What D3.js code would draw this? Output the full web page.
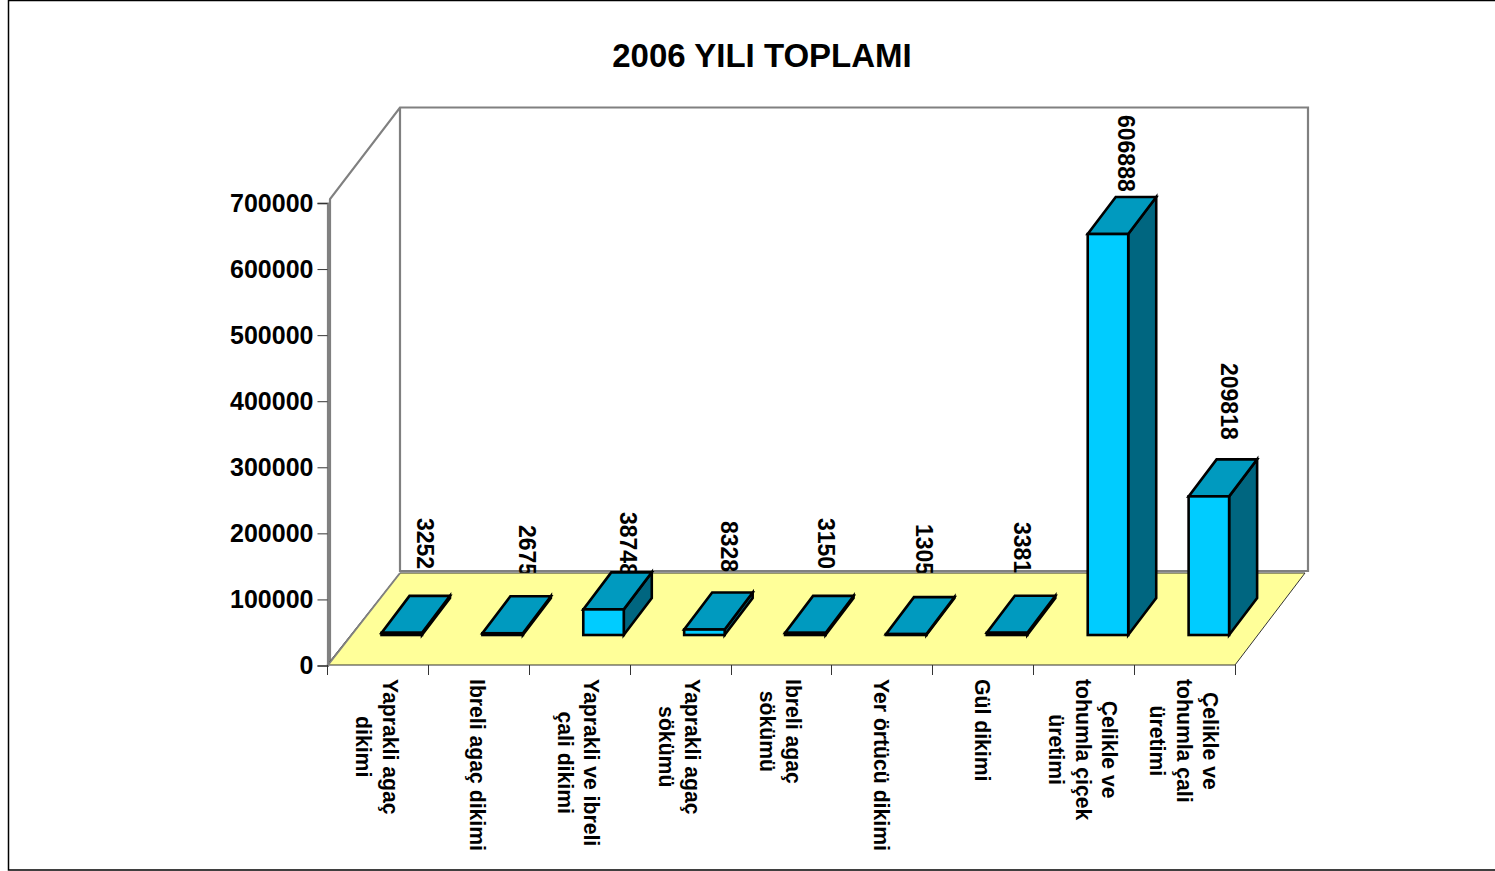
<!DOCTYPE html>
<html lang="en">
<head>
    <meta charset="UTF-8">
    <title>2006 YILI TOPLAMI</title>
    <script src="https://d3js.org/d3.v7.min.js"></script>
    <style>
        html, body { margin: 0; padding: 0; background: #fff; overflow: hidden; }
        svg { display: block; }
        text { font-family: "Liberation Sans", Arial, sans-serif; font-weight: bold; fill: #000; }
    </style>
</head>
<body>
<div id="chart"></div>
<script>
    const chartTitle = '2006 YILI TOPLAMI';
    const categories = [
        ['Yaprakli agaç', 'dikimi'],
        ['Ibreli agaç dikimi'],
        ['Yaprakli ve ibreli', 'çali dikimi'],
        ['Yaprakli agaç', 'sökümü'],
        ['Ibreli agaç', 'sökümü'],
        ['Yer örtücü dikimi'],
        ['Gül dikimi'],
        ['Çelikle ve', 'tohumla çiçek', 'üretimi'],
        ['Çelikle ve', 'tohumla çali', 'üretimi']
    ];
    const values = [3252, 2675, 38748, 8328, 3150, 1305, 3381, 606888, 209818];
    const yTicks = [0, 100000, 200000, 300000, 400000, 500000, 600000, 700000];

    const width = 1495;
    const height = 871;

    // plot box, the back wall is the front plane shifted by depth
    const plot = { left: 330, right: 1235, top: 199, bottom: 665 };
    const wallDx = 70;
    const wallDy = -92;
    const barDx = 28;
    const barDy = -37;
    const barBase = 635;
    const barWidth = 40.5;

    const xScale = d3.scaleBand()
        .domain(categories.map((d, i) => i))
        .range([327, 1235]);

    const yScale = d3.scaleLinear()
        .domain([0, 700000])
        .range([plot.bottom, 202.5]);

    const svg = d3.select('#chart')
        .append('svg')
        .attr('width', width)
        .attr('height', height);

    // outer chart border, runs off the right side of the page
    svg.append('path')
        .attr('d', `M${width + 5},0.5 H8.5 V870 H${width + 5}`)
        .attr('fill', 'none')
        .attr('stroke', '#000')
        .attr('stroke-width', 1.5);

    svg.append('text')
        .attr('x', 762)
        .attr('y', 67)
        .attr('text-anchor', 'middle')
        .attr('font-size', 33)
        .text(chartTitle);

    // walls
    const wallColor = '#808080';
    svg.append('path')
        .attr('d', `M${plot.left},${plot.bottom} V${plot.top} L${plot.left + wallDx},${plot.top + wallDy + 0.5}
            H1308 V571 H${plot.left + wallDx} V${plot.top + wallDy}`)
        .attr('fill', 'none')
        .attr('stroke', wallColor)
        .attr('stroke-width', 2.2);

    // data labels sit behind the floor and the bars, each one has its own spot in the original
    const labelLeft = [416.5, 518.5, 619.5, 720.5, 818, 916, 1014, 1117.5, 1220.5];
    const labelTop = [518, 525, 512, 521, 518, 524, 522, 115, 363];
    svg.selectAll('.value-label')
        .data(values)
        .join('text')
        .attr('class', 'value-label')
        .attr('font-size', 23)
        .attr('text-anchor', 'start')
        .attr('transform', (d, i) => `translate(${labelLeft[i]},${labelTop[i]}) rotate(90)`)
        .text(d => d);

    // floor
    svg.append('path')
        .attr('d', `M${plot.left - 3},${plot.bottom} L${plot.left + wallDx},573 H1305 L${plot.right},${plot.bottom} Z`)
        .attr('fill', '#FFFF99')
        .attr('stroke', '#333')
        .attr('stroke-width', 1);
    svg.append('line')
        .attr('x1', plot.left - 2)
        .attr('y1', plot.bottom)
        .attr('x2', plot.left + wallDx)
        .attr('y2', 573)
        .attr('stroke', wallColor)
        .attr('stroke-width', 2);

    // y axis
    const yAxis = svg.append('g')
        .attr('transform', 'translate(327.5,0.5)')
        .call(d3.axisLeft(yScale).tickValues(yTicks).tickFormat(d3.format('d')).tickSize(10).tickPadding(4));
    yAxis.select('.domain').attr('stroke', wallColor).attr('stroke-width', 2.2);
    yAxis.selectAll('.tick line').attr('stroke', '#333');
    yAxis.selectAll('text').attr('font-size', 25).attr('font-family', null);

    // x axis, tick marks only, labels are done below
    const xTickPos = categories.map((d, i) => xScale(i)).concat(1235);
    svg.selectAll('.x-tick')
        .data(xTickPos)
        .join('line')
        .attr('class', 'x-tick')
        .attr('x1', d => Math.round(d) + 0.5)
        .attr('x2', d => Math.round(d) + 0.5)
        .attr('y1', plot.bottom)
        .attr('y2', plot.bottom + 10)
        .attr('stroke', '#333');

    const catGroups = svg.selectAll('.cat-label')
        .data(categories)
        .join('g')
        .attr('class', 'cat-label');

    catGroups.each(function(lines, i) {
        const g = d3.select(this);
        const texts = lines.map(line => g.append('text').attr('font-size', 21.2).attr('text-anchor', 'middle').text(line));
        const longest = d3.max(texts, t => t.node().getComputedTextLength());
        const cx = xScale(i) + xScale.bandwidth() / 2;
        const lineStep = 26.5;
        texts.forEach((t, k) => {
            const tx = cx + ((lines.length - 1) / 2 - k) * lineStep - 8;
            t.attr('transform', `translate(${tx},${679 + longest / 2}) rotate(90)`);
        });
    });

    // bars: front, top and side faces
    const bars = svg.selectAll('.bar')
        .data(values)
        .join('g')
        .attr('class', 'bar')
        .attr('stroke', '#000')
        .attr('stroke-width', 2.6)
        .attr('stroke-linejoin', 'miter');

    const barHeight = d => yScale(0) - yScale(d);

    bars.append('path')
        .attr('fill', '#006680')
        .attr('d', (d, i) => {
            const x = xScale(i) + 54.5 + barWidth;
            const top = barBase - barHeight(d);
            return `M${x},${barBase} V${top} L${x + barDx},${top + barDy} V${barBase + barDy} Z`;
        });

    bars.append('path')
        .attr('fill', '#009ABF')
        .attr('d', (d, i) => {
            const x = xScale(i) + 54.5;
            const top = barBase - barHeight(d);
            return `M${x},${top} H${x + barWidth} L${x + barWidth + barDx},${top + barDy} H${x + barDx} Z`;
        });

    bars.append('rect')
        .attr('fill', '#00CCFF')
        .attr('x', (d, i) => xScale(i) + 54.5)
        .attr('y', d => barBase - barHeight(d))
        .attr('width', barWidth)
        .attr('height', barHeight);
</script>
</body>
</html>
